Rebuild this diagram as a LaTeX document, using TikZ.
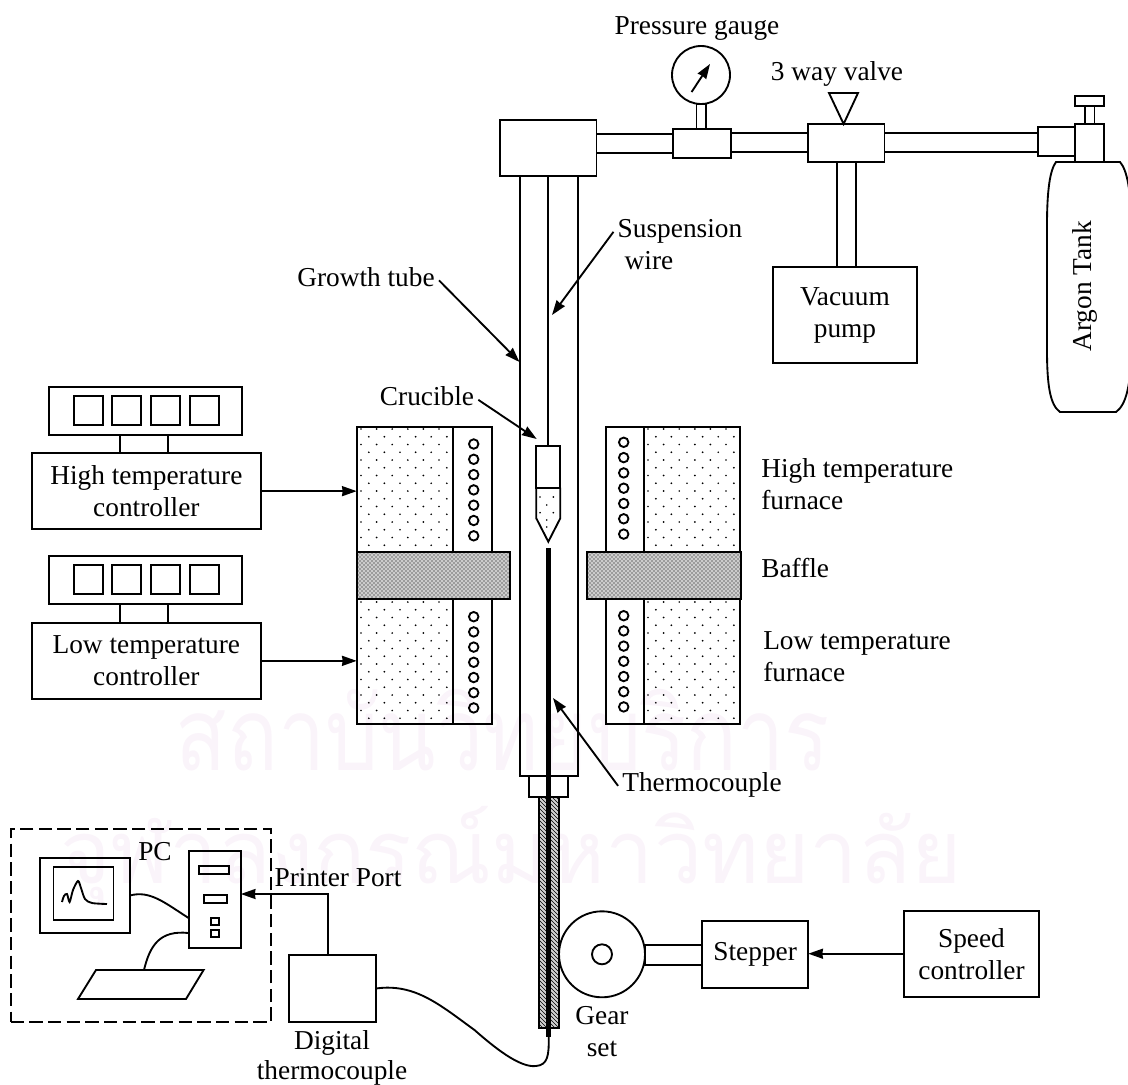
\documentclass[tikz,border=0pt]{standalone}
\usepackage{fontspec}
\setmainfont{Liberation Serif}
\newfontfamily\thaifont[Script=Thai]{Loma}
\usetikzlibrary{arrows.meta,patterns}
\definecolor{wmk}{HTML}{FAF4FA}
% dots of the furnace packing, x0 y0 columns rows
\newcommand{\furndots}[4]{%
  \foreach \r in {0,...,#4} \foreach \c in {0,...,#3}
    \fill ({#1+\c*15.6+mod(\r,2)*7.8},{#2+\r*7.75}) circle (0.95);}

\begin{document}
\begin{tikzpicture}[x=0.75pt,y=-0.75pt,
  bx/.style 2 args={draw, line width=1.4pt, minimum width=#1*0.75pt, minimum height=#2*0.75pt, inner sep=0pt, outer sep=0pt, align=center, font=\fontsize{20.5}{24}\selectfont},
  lb/.style={inner sep=3pt, yshift=-1pt, text height=13pt, text depth=4.5pt, font=\fontsize{20.5}{24}\selectfont},
  ln/.style={line width=1.4pt},
  coil/.style={draw, circle, line width=1.4pt, minimum size=9.5*0.75pt, inner sep=0pt},
  baf/.style={preaction={fill=gray!40}, pattern=crosshatch dots},
  >={Stealth[length=11pt,width=7.5pt,inset=0.5pt]}]
  \useasboundingbox (0,0) rectangle (1128,1085);
  % pale lettering behind the drawing
  \node[wmk, font=\thaifont\fontsize{76}{76}\selectfont] (wma) at (503,730) {\scalebox{0.83}[1]{สถาบันวิทยบริการ}};
  \node[wmk, font=\thaifont\fontsize{66}{66}\selectfont] (wmb) at (511,856) {\scalebox{0.98}[1]{จุฬาลงกรณ์มหาวิทยาลัย}};

  % gas line
  \node[bx={58}{600}] (tube) at (549,476) {};
  \node[bx={96.5}{56}] (head) at (548.25,148) {};
  \node[bx={76.5}{19}] (pa) at (634.75,143.5) {};
  \node[bx={58}{29}] (tee) at (702,143.5) {};
  \node[bx={9.5}{25}] (gst) at (701.25,116.5) {};
  \node[draw, circle, line width=1.4pt, minimum size=58*0.75pt, inner sep=0pt] (gauge) at (701,75) {};
  \coordinate (nda) at (691.6,92); \coordinate (ndb) at (710,64);
  \draw[ln,->] (nda) -- (ndb);
  \node[bx={76.7}{19}] (pb) at (769.35,142.5) {};
  \node[bx={76.8}{38}] (valve) at (846.1,143) {};
  \draw[ln] (829,93) -- (858,93) -- (843.6,124) -- cycle;
  \node[bx={153.5}{19}] (pc) at (961.25,142.5) {};
  \node[bx={37}{29}] (conn) at (1056.5,141.5) {};
  \node[bx={9.5}{18}] (stem) at (1089.75,115) {};
  \node[bx={29}{38}] (tkv) at (1089.5,143) {};
  \node[bx={29}{10}] (cap) at (1089.5,101) {};
  \node[bx={19.8}{105}] (vp) at (846.5,214.5) {};
  \node[bx={144}{96}] (pump) at (845,315) {Vacuum\\pump};
  \draw[ln] (1056,162) -- (1120,162) .. controls (1127,170) and (1131,190) .. (1131,225) -- (1131,350)
    .. controls (1131,385) and (1126,405) .. (1116,412) -- (1060,412)
    .. controls (1050,405) and (1047,385) .. (1047,350) -- (1047,225)
    .. controls (1047,190) and (1050,170) .. (1056,162) -- cycle;
  \node[lb, rotate=90] (argon) at (1086,285) {Argon Tank};
  \node[lb] (pg) at (697,27.5) {Pressure gauge};
  \node[lb] (way) at (837,73.5) {3 way valve};

  % furnaces
  \node[bx={96.6}{125}] (tl) at (405,489.2) {};
  \node[bx={38.4}{125}] (tlc) at (472.5,489.2) {};
  \node[bx={96.6}{124.7}] (bl) at (405,661.65) {};
  \node[bx={38.4}{124.7}] (blc) at (472.5,661.65) {};
  \node[bx={96}{125}] (tr) at (692,489.2) {};
  \node[bx={38}{125}] (trc) at (625,489.2) {};
  \node[bx={96}{124.7}] (br) at (692,661.65) {};
  \node[bx={38}{124.7}] (brc) at (625,661.65) {};
  \furndots{361}{429}{5}{15}
  \furndots{361}{602}{5}{15}
  \furndots{648}{429}{5}{15}
  \furndots{648}{602}{5}{15}
  \foreach \i in {0,...,6} {
    \node[coil] (cla\i) at (473.7,{444+\i*15.3}) {};
    \node[coil] (clb\i) at (473.7,{616.7+\i*15.2}) {};
    \node[coil] (cra\i) at (623.7,{442.3+\i*15.3}) {};
    \node[coil] (crb\i) at (623.7,{615.7+\i*15.2}) {};
  }
  \node[bx={153.6}{47.6}, baf] (lbf) at (433.5,575.5) {};
  \node[bx={154.3}{47.6}, baf] (rbf) at (663.85,575.5) {};

  % crucible and thermocouple
  \node[bx={24}{42}] (cr) at (548.3,466.7) {};
  \draw[ln] (cr.south west) -- (536.3,518.3) -- (548.3,541.7) -- (560.3,518.3) -- (cr.south east);
  \foreach \p in {(540,497),(553.3,497),(546.7,505),(540,512.7),(553.3,512.7),(546.7,520),(546.7,527)}
    \fill \p circle (0.95);
  \draw[ln] (head.south -| cr.north) -- (cr.north);
  \node[bx={39}{21}] (nut) at (548.5,786.5) {};
  \node[bx={19.7}{231}, preaction={fill=gray!35}, pattern=north west lines] (scr) at (548.85,912.5) {};
  \coordinate (tct) at (548.7,548); \coordinate (tcb) at (548.7,1037);
  \draw[line width=3.75pt] (tct) -- (tcb);

  % controllers
  \node[bx={228.7}{76.3}] (hc) at (146.35,491.15) {High temperature\\controller};
  \node[bx={48}{18}] (hn) at (144,444) {};
  \node[bx={192.4}{48}] (hd) at (145.5,411) {};
  \node[bx={228.7}{76.3}] (lc) at (146.35,660.85) {Low temperature\\controller};
  \node[bx={48}{19}] (lk) at (144,613.2) {};
  \node[bx={192.4}{48}] (ld) at (145.5,579.7) {};
  \foreach \x [count=\n] in {88.3,126.8,165.3,204.4} {
    \node[bx={29}{29}] (hs\n) at (\x,410.7) {};
    \node[bx={29}{29}] (ls\n) at (\x,579.7) {};
  }
  \draw[ln,->] (hc.east) -- (hc.east -| tl.west);
  \draw[ln,->] (lc.east) -- (lc.east -| bl.west);

  % labels on the right and arrows to the tube
  \node[lb, anchor=west] (hf) at (757,470.5) {High temperature};
  \node[lb, anchor=west] (hfb) at (757,502.5) {furnace};
  \node[lb, anchor=west] (baffle) at (757,570.5) {Baffle};
  \node[lb, anchor=west] (lf) at (759,642.5) {Low temperature};
  \node[lb, anchor=west] (lfb) at (759,674.5) {furnace};
  \node[lb] (su) at (680,230.5) {Suspension};
  \node[lb] (wi) at (649,262) {wire};
  \coordinate (sut) at (552,315);
  \draw[ln,->] (su.west) -- (sut);
  \node[lb] (gr) at (366,279) {Growth tube};
  \coordinate (grt) at (519.5,362);
  \draw[ln,->] (gr.east) -- (grt);
  \node[lb] (cru) at (427,398.5) {Crucible};
  \coordinate (crt) at (536.7,439);
  \draw[ln,->] (cru.east) -- (crt);
  \node[lb] (th) at (702,784.5) {Thermocouple};
  \coordinate (tht) at (553,698);
  \draw[ln,->] (th.west) -- (tht);

  % drive
  \node[draw, circle, line width=1.4pt, minimum size=86*0.75pt, inner sep=0pt] (gear) at (602,954.3) {};
  \node[draw, circle, line width=1.4pt, minimum size=20*0.75pt, inner sep=0pt] (hub) at (602,954.3) {};
  \node[bx={57}{19.7}] (sh) at (673.5,954.85) {};
  \node[bx={106.3}{67.3}] (st) at (755.15,954.35) {Stepper};
  \node[bx={135}{86}] (sp) at (971.5,953.7) {Speed\\controller};
  \draw[ln,->] (sp.west) -- (sp.west -| st.east);
  \node[lb] (gs) at (602,1017) {Gear};
  \node[lb] (gt) at (602,1049.5) {set};

  % PC group
  \node[bx={260.3}{192.7}, dash pattern=on 10pt off 4pt] (pcb) at (140.85,925.35) {};
  \node[lb] (pcl) at (155,853.5) {PC};
  \node[bx={90}{75}] (mon) at (85,895.5) {};
  \node[bx={60}{53}] (scn) at (83.45,893.5) {};
  \draw[ln] plot[smooth,tension=0.5] coordinates {(62,902) (64,896) (67,894) (69.6,902) (73,890) (78,881) (81,888) (85,899) (92,903) (107,904)};
  \node[bx={52.2}{96.7}] (tw) at (214.7,899.35) {};
  \node[bx={30}{8.3}] (sa) at (214,869.85) {};
  \node[bx={23}{8}] (sb) at (215.5,899) {};
  \node[bx={8}{7}] (qa) at (214.75,921.5) {};
  \node[bx={8}{7}] (qb) at (214.75,933.5) {};
  \coordinate (twa) at (188.6,918); \coordinate (twb) at (188.6,933); \coordinate (kb) at (144,970);
  \draw[ln] (mon.east) .. controls (150,890) and (165,903) .. (twa);
  \draw[ln] (twb) .. controls (160,930) and (150,945) .. (kb);
  \draw[ln] (96,970) -- (203.6,970) -- (186,999) -- (78,999) -- cycle;

  % digital thermocouple
  \node[bx={87}{67}] (dig) at (332.5,988.5) {};
  \node[lb] (digl) at (332,1042) {Digital};
  \node[lb, inner sep=0pt] (digm) at (332,1072) {thermocouple};
  \node[lb] (pp) at (338,879.5) {Printer Port};
  \coordinate (ppc) at (328,894);
  \draw[ln,->] (dig.north -| ppc) -- (ppc) -- (tw.east |- ppc);
  \draw[ln] (dig.east) .. controls (415,983) and (440,1005) .. (474.5,1030)
    .. controls (495,1048) and (520,1068) .. (536,1066) .. controls (548,1065) and (549,1055) .. (tcb);
\end{tikzpicture}
\end{document}
